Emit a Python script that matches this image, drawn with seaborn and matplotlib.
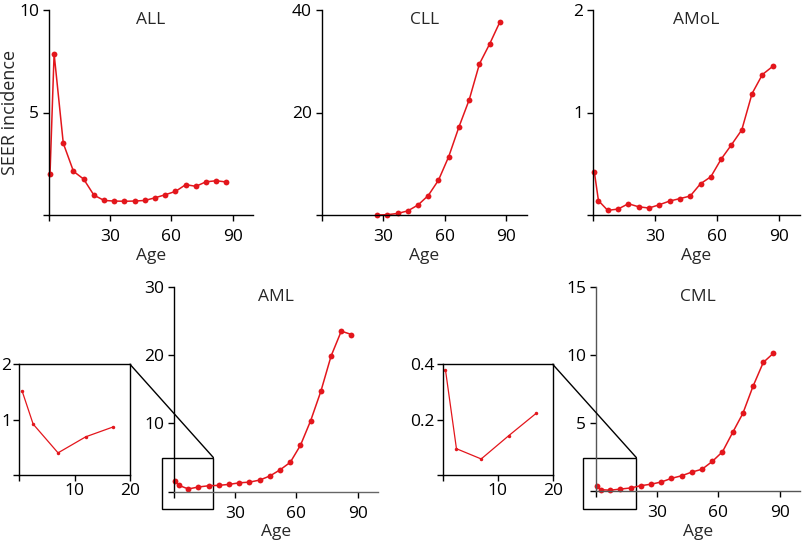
import matplotlib
matplotlib.use("Agg")
import matplotlib.pyplot as plt
import seaborn as sns
from matplotlib.patches import Rectangle, ConnectionPatch

sns.set_theme(style="ticks")
plt.rcParams["font.family"] = ["Open Sans", "DejaVu Sans"]

# age group midpoints
ages = [0.5, 2.5, 7, 12, 17, 22, 27, 32, 37, 42, 47, 52, 57, 62, 67, 72, 77, 82, 87]

all_rate = [2.0, 7.87, 3.5, 2.13, 1.75, 0.97, 0.71, 0.68, 0.67, 0.68, 0.71,
            0.84, 0.99, 1.15, 1.48, 1.40, 1.62, 1.67, 1.61]
cll_ages = [27, 32, 37, 42, 47, 52, 57, 62, 67, 72, 77, 82, 87]
cll_rate = [0.0, 0.06, 0.3, 0.8, 1.95, 3.8, 6.8, 11.4, 17.2, 22.5, 29.5, 33.4, 37.7]
amol_rate = [0.42, 0.14, 0.045, 0.058, 0.11, 0.08, 0.068, 0.10, 0.136, 0.16,
             0.185, 0.305, 0.373, 0.545, 0.685, 0.83, 1.185, 1.37, 1.45]
aml_rate = [1.52, 0.92, 0.40, 0.69, 0.87, 0.93, 1.07, 1.3, 1.4, 1.7, 2.3,
            3.2, 4.3, 6.8, 10.4, 14.7, 19.85, 23.5, 23.0]
cml_rate = [0.38, 0.095, 0.058, 0.142, 0.223, 0.39, 0.5, 0.66, 0.93, 1.12,
            1.39, 1.6, 2.17, 2.88, 4.3, 5.7, 7.7, 9.44, 10.12]

RED = "#e3161c"
W, H = 802, 540
FS = 12.5


def px_axes(fig, left, top, right, bottom):
    return fig.add_axes([left / W, 1 - bottom / H, (right - left) / W, (bottom - top) / H])


def style_main(ax, yticks, title, title_y=0.95, spine_color="black"):
    ax.set_xlim(0, 100)
    ax.set_ylim(yticks[0], yticks[-1])
    ax.set_xticks([0, 30, 60, 90])
    ax.set_xticklabels(["", "30", "60", "90"])
    ax.set_yticks(yticks)
    ax.set_yticklabels([""] + [f"{t:g}" for t in yticks[1:]])
    ax.tick_params(direction="out", length=4, width=1, labelsize=FS, pad=3, colors="black")
    ax.tick_params(axis="x", pad=6)
    for s in ["top", "right"]:
        ax.spines[s].set_visible(False)
    for s in ["left", "bottom"]:
        ax.spines[s].set_color(spine_color)
        ax.spines[s].set_linewidth(1)
    ax.set_xlabel("Age", fontsize=FS, labelpad=2)
    ax.set_ylabel("")
    ax.text(0.5, title_y, title, transform=ax.transAxes, ha="center", va="center", fontsize=FS)


def draw(ax, x, y, ms=4.2, lw=1.1):
    sns.lineplot(x=x, y=y, ax=ax, color=RED, marker="o", markersize=ms,
                 markeredgewidth=0, linewidth=lw, clip_on=False)


def inset(fig, main_ax, left, right, x, y, yticks, box):
    ins = px_axes(fig, left, 364.3, right, 475)
    draw(ins, x[:5], y[:5], ms=2.5, lw=0.9)
    ins.set_xlim(0, 20)
    ins.set_ylim(yticks[0], yticks[-1])
    ins.set_xticks([0, 10, 20])
    ins.set_xticklabels(["", "10", "20"])
    ins.set_yticks(yticks)
    ins.set_yticklabels([""] + [f"{t:g}" for t in yticks[1:]])
    ins.tick_params(direction="out", length=4, width=1, labelsize=FS, pad=2, colors="black")
    for s in ins.spines.values():
        s.set_color("black")
        s.set_linewidth(1)
    x0, x1, y0, y1 = box
    main_ax.add_patch(Rectangle((x0, y0), x1 - x0, y1 - y0, fill=False,
                                edgecolor="black", linewidth=1, clip_on=False, zorder=1))
    for xa, xb in [((1, 1), (x1, y1)), ((0, 0), (x0, y0))]:
        con = ConnectionPatch(xyA=xa, coordsA="axes fraction", axesA=ins,
                              xyB=xb, coordsB="data", axesB=main_ax,
                              color="black", linewidth=1)
        fig.add_artist(con)


fig = plt.figure(figsize=(W / 100, H / 100), dpi=100)

ax1 = px_axes(fig, 49, 10, 253, 215)
draw(ax1, ages, all_rate)
style_main(ax1, [0, 5, 10], "ALL")
ax1.set_ylabel("SEER incidence", fontsize=13)
ax1.yaxis.set_label_coords(-0.145, 0.5)

ax2 = px_axes(fig, 321.7, 10, 526.6, 215)
draw(ax2, cll_ages, cll_rate)
style_main(ax2, [0, 20, 40], "CLL")

ax3 = px_axes(fig, 593.3, 10, 799.5, 215)
draw(ax3, ages, amol_rate)
style_main(ax3, [0, 1, 2], "AMoL")

ax4 = px_axes(fig, 174, 286.7, 378, 491.7)
draw(ax4, ages, aml_rate)
style_main(ax4, [0, 10, 20, 30], "AML")
ax4.spines["bottom"].set_color("#666666")
inset(fig, ax4, 19.3, 130, ages, aml_rate, [0, 1, 2], (-6, 19.3, -2.5, 5.0))

ax5 = px_axes(fig, 596, 286.7, 800, 491)
draw(ax5, ages, cml_rate)
style_main(ax5, [0, 5, 10, 15], "CML", spine_color="#555555")
inset(fig, ax5, 442.7, 552.7, ages, cml_rate, [0, 0.2, 0.4], (-6.3, 19.8, -1.35, 2.45))

fig.savefig("out.png", dpi=100)
